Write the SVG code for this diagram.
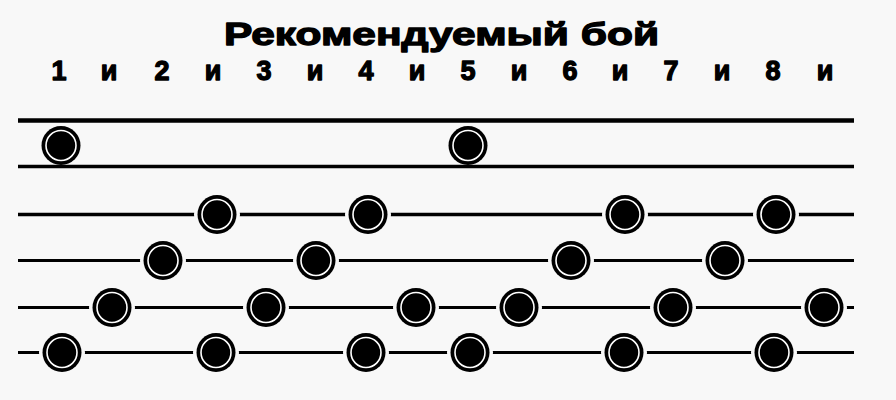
<svg xmlns="http://www.w3.org/2000/svg" width="896" height="400" viewBox="0 0 896 400">
<defs>
<style>
.bg{fill:#f8f8f8}
.ttl{font-family:"Liberation Sans",Arial,sans-serif;font-weight:bold;fill:#000;stroke:#000;stroke-width:1.3;stroke-linejoin:round}
.cnt{font-family:"Liberation Sans",Arial,sans-serif;font-weight:bold;font-size:27px;fill:#000;stroke:#000;stroke-width:1.3;stroke-linejoin:round;text-anchor:middle}
.ln{stroke:#000;fill:none}
.halo{fill:#f8f8f8}
.dot{fill:#000}
.ring{fill:none;stroke:#fff;stroke-width:1.6}
</style>
<g id="dotH"><circle class="halo" r="23"/><circle class="dot" r="19.5"/><circle class="ring" r="15"/></g>
<g id="dotP"><circle class="dot" r="19.5"/><circle class="ring" r="15"/></g>
</defs>
<rect class="bg" x="0" y="0" width="896" height="400"/>
<g id="title">
<text class="ttl" x="224" y="45" font-size="32" textLength="435" lengthAdjust="spacingAndGlyphs">Рекомендуемый бой</text>
</g>
<g id="counts">
<text class="cnt" x="59" y="80">1</text>
<text class="cnt" x="109" y="80">и</text>
<text class="cnt" x="162" y="80">2</text>
<text class="cnt" x="213" y="80">и</text>
<text class="cnt" x="264" y="80">3</text>
<text class="cnt" x="315" y="80">и</text>
<text class="cnt" x="366" y="80">4</text>
<text class="cnt" x="417" y="80">и</text>
<text class="cnt" x="468" y="80">5</text>
<text class="cnt" x="519" y="80">и</text>
<text class="cnt" x="570" y="80">6</text>
<text class="cnt" x="620" y="80">и</text>
<text class="cnt" x="671" y="80">7</text>
<text class="cnt" x="722" y="80">и</text>
<text class="cnt" x="773" y="80">8</text>
<text class="cnt" x="825" y="80">и</text>
</g>
<g id="lines">
<line class="ln" x1="18" y1="120.5" x2="854" y2="120.5" stroke-width="4.5"/>
<line class="ln" x1="18" y1="166.5" x2="854" y2="166.5" stroke-width="3.5"/>
<line class="ln" x1="18" y1="214.5" x2="854" y2="214.5" stroke-width="3.5"/>
<line class="ln" x1="18" y1="260.5" x2="854" y2="260.5" stroke-width="3"/>
<line class="ln" x1="18" y1="307.5" x2="854" y2="307.5" stroke-width="3"/>
<line class="ln" x1="18" y1="352.5" x2="854" y2="352.5" stroke-width="2.8"/>
</g>
<g id="row1">
<use href="#dotP" x="61" y="145.5"/>
<use href="#dotP" x="468" y="145.5"/>
</g>
<g id="row3">
<use href="#dotH" x="217" y="214.5"/>
<use href="#dotH" x="368" y="214.5"/>
<use href="#dotH" x="625" y="214.5"/>
<use href="#dotH" x="776" y="214.5"/>
</g>
<g id="row4">
<use href="#dotH" x="163" y="260.5"/>
<use href="#dotH" x="316" y="260.5"/>
<use href="#dotH" x="571" y="260.5"/>
<use href="#dotH" x="725" y="260.5"/>
</g>
<g id="row5">
<use href="#dotH" x="112" y="307.5"/>
<use href="#dotH" x="266" y="307.5"/>
<use href="#dotH" x="416" y="307.5"/>
<use href="#dotH" x="519" y="307.5"/>
<use href="#dotH" x="673" y="307.5"/>
<use href="#dotH" x="824" y="307.5"/>
</g>
<g id="row6">
<use href="#dotH" x="62" y="352.5"/>
<use href="#dotH" x="216" y="352.5"/>
<use href="#dotH" x="366" y="352.5"/>
<use href="#dotH" x="470" y="352.5"/>
<use href="#dotH" x="624" y="352.5"/>
<use href="#dotH" x="774" y="352.5"/>
</g>
</svg>
